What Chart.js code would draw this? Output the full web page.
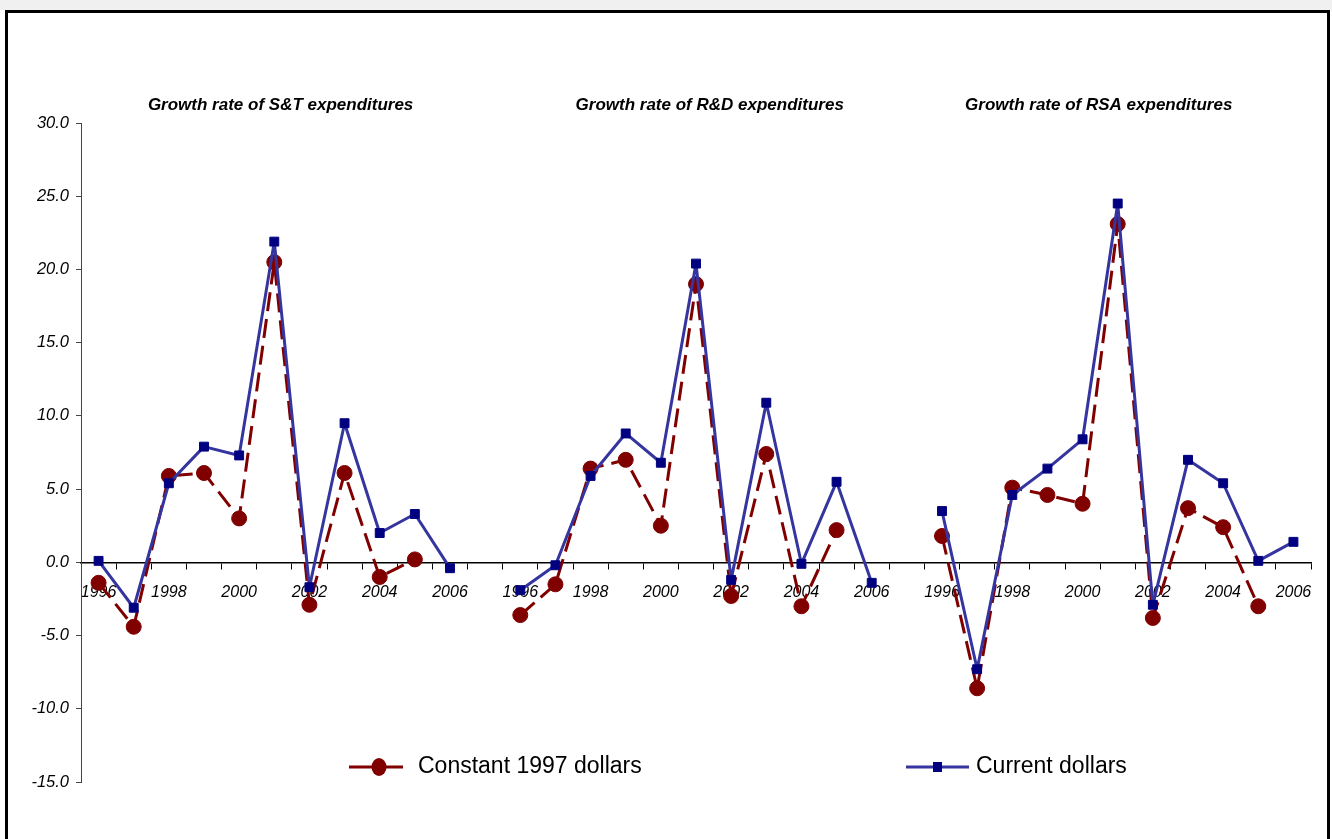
<!DOCTYPE html>
<html>
<head>
<meta charset="utf-8">
<script src="https://cdn.jsdelivr.net/npm/chart.js@4.4.1/dist/chart.umd.min.js"></script>
<style>
  html, body { margin: 0; padding: 0; background: #fff; overflow: hidden; }
  #band { position: absolute; left: 0; top: 0; width: 1332px; height: 10px; background: #f0f0f0; }
  #frame { position: absolute; left: 5px; top: 10px; width: 1325px; height: 829px; box-sizing: border-box;
           border: 3px solid #000; border-bottom: none; }
  #chart { position: absolute; left: 0; top: 0; }
</style>
</head>
<body>
<div id="band"></div>
<div id="frame"></div>
<canvas id="chart" width="1332" height="839"></canvas>
<script>
// years of one panel, the three panels are separated by an empty slot
const years = ['1996', '1997', '1998', '1999', '2000', '2001', '2002', '2003', '2004', '2005', '2006'];
const categories = [...years, '', ...years, '', ...years];

const panelTitles = ['Growth rate of S&T expenditures', 'Growth rate of R&D expenditures', 'Growth rate of RSA expenditures'];
const seriesNames = ['Constant 1997 dollars', 'Current dollars'];

// S&T
const constantST = [-1.4, -4.4, 5.9, 6.1, 3.0, 20.5, -2.9, 6.1, -1.0, 0.2, null];
const currentST = [0.1, -3.1, 5.4, 7.9, 7.3, 21.9, -1.7, 9.5, 2.0, 3.3, -0.4];
// R&D
const constantRD = [-3.6, -1.5, 6.4, 7.0, 2.5, 19.0, -2.3, 7.4, -3.0, 2.2, null];
const currentRD = [-1.9, -0.2, 5.9, 8.8, 6.8, 20.4, -1.2, 10.9, -0.1, 5.5, -1.4];
// RSA
const constantRSA = [1.8, -8.6, 5.1, 4.6, 4.0, 23.1, -3.8, 3.7, 2.4, -3.0, null];
const currentRSA = [3.5, -7.3, 4.6, 6.4, 8.4, 24.5, -2.9, 7.0, 5.4, 0.1, 1.4];

const yTicks = { min: -15, max: 30, step: 5 };

const RED = '#800000';
const BLUE_LINE = '#3535a0';
const BLUE_MARK = '#000080';
const FONT = "'Liberation Sans', Arial, sans-serif";

const constantAll = [...constantST, null, ...constantRD, null, ...constantRSA];
const currentAll = [...currentST, null, ...currentRD, null, ...currentRSA];

// titles and legend are drawn by hand, like the original sheet
const panelTextPlugin = {
    id: 'panelText',
    afterDraw(chart) {
        const ctx = chart.ctx;
        const x = chart.scales.x;
        const titleAt = [5.18, 17.39, 28.46];
        ctx.save();
        ctx.fillStyle = '#000';
        ctx.font = 'italic bold 17px ' + FONT;
        ctx.textAlign = 'center';
        ctx.textBaseline = 'middle';
        panelTitles.forEach((t, i) => {
            ctx.fillText(t, x.getPixelForValue(titleAt[i]), 105);
        });

        // legend
        const ly = 767;
        const red = chart.data.datasets[0];
        const blue = chart.data.datasets[1];
        ctx.lineWidth = 3;
        ctx.strokeStyle = red.borderColor;
        ctx.beginPath(); ctx.moveTo(349, ly); ctx.lineTo(403, ly); ctx.stroke();
        ctx.fillStyle = red.pointBackgroundColor;
        ctx.beginPath(); ctx.ellipse(379, ly, 7.5, 9, 0, 0, Math.PI * 2); ctx.fill();

        ctx.strokeStyle = blue.borderColor;
        ctx.beginPath(); ctx.moveTo(906, ly); ctx.lineTo(969, ly); ctx.stroke();
        ctx.fillStyle = blue.pointBackgroundColor;
        ctx.fillRect(933, ly - 5, 9, 10);

        ctx.fillStyle = '#000';
        ctx.font = '23px ' + FONT;
        ctx.textAlign = 'left';
        ctx.fillText(seriesNames[0], 418, ly);
        ctx.fillText(seriesNames[1], 976, ly);
        ctx.restore();
    }
};

new Chart(document.getElementById('chart'), {
    type: 'line',
    data: {
        labels: categories,
        datasets: [
            {
                label: seriesNames[0],
                data: constantAll,
                borderColor: RED,
                backgroundColor: RED,
                pointBackgroundColor: RED,
                pointBorderColor: RED,
                borderWidth: 3,
                borderDash: [19, 8],
                borderJoinStyle: 'round',
                pointStyle: 'circle',
                pointRadius: 7.5,
                pointBorderWidth: 1,
                spanGaps: false,
                order: 1
            },
            {
                label: seriesNames[1],
                data: currentAll,
                borderColor: BLUE_LINE,
                backgroundColor: BLUE_MARK,
                pointBackgroundColor: BLUE_MARK,
                pointBorderColor: BLUE_MARK,
                borderWidth: 3,
                borderJoinStyle: 'round',
                pointStyle: 'rect',
                pointRadius: 6.3,
                pointBorderWidth: 1,
                spanGaps: false,
                order: 0
            }
        ]
    },
    options: {
        responsive: false,
        animation: false,
        devicePixelRatio: 1,
        layout: { padding: { left: 0, top: 123, right: 21, bottom: 57 } },
        plugins: {
            legend: { display: false },
            title: { display: false },
            tooltip: { enabled: false }
        },
        scales: {
            x: {
                type: 'category',
                position: { y: 0 },
                offset: true,
                grid: { display: true, drawOnChartArea: false, drawTicks: true, tickLength: 6, offset: true, color: '#000' },
                border: { display: true, color: '#000', width: 1.5 },
                ticks: {
                    autoSkip: false,
                    maxRotation: 0,
                    padding: 15,
                    color: '#000',
                    font: { family: FONT, size: 16, style: 'italic' },
                    callback(v) {
                        const l = this.getLabelForValue(v);
                        return l && Number(l) % 2 === 0 ? l : '';
                    }
                }
            },
            y: {
                min: yTicks.min,
                max: yTicks.max,
                afterFit(scale) { scale.width = 81; },
                grid: { display: true, drawOnChartArea: false, drawTicks: true, tickLength: 5, color: '#444' },
                border: { display: true, color: '#444', width: 1 },
                ticks: {
                    stepSize: yTicks.step,
                    padding: 7,
                    color: '#000',
                    font: { family: FONT, size: 16.5, style: 'italic' },
                    callback: v => v.toFixed(1)
                }
            }
        }
    },
    plugins: [panelTextPlugin]
});
</script>
</body>
</html>
